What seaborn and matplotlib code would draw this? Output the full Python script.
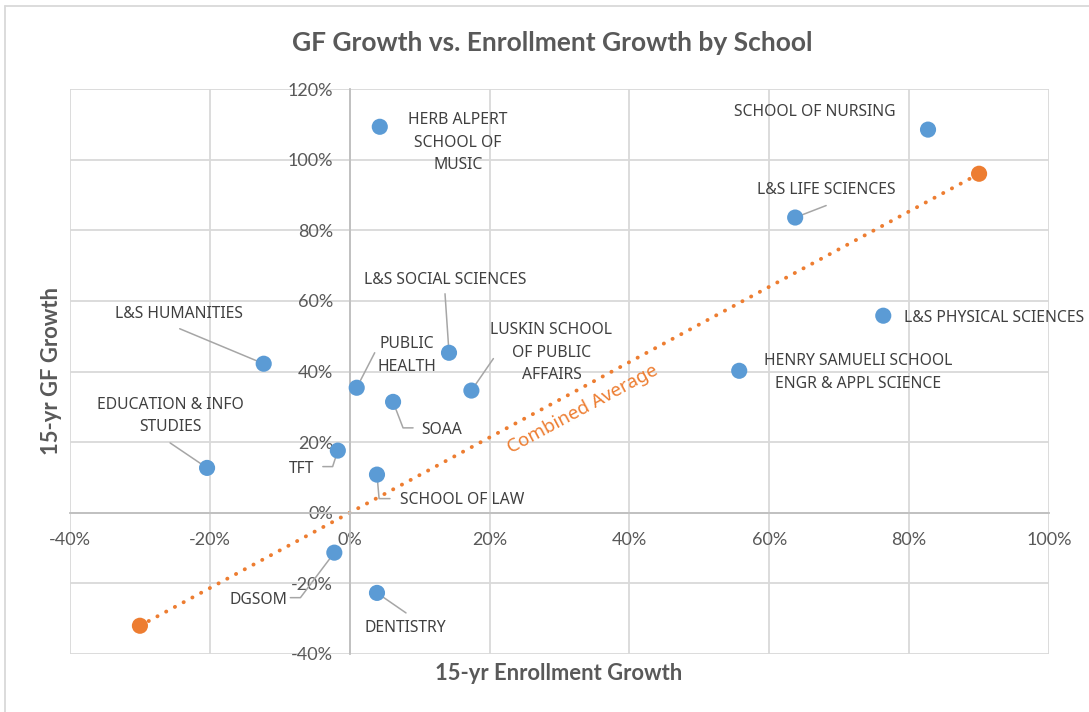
import numpy as np
import pandas as pd
import matplotlib.pyplot as plt
import matplotlib.ticker as mticker
from matplotlib.lines import Line2D
import seaborn as sns

# values in percent
schools = ["HERB ALPERT\nSCHOOL OF\nMUSIC", "SCHOOL OF NURSING", "L&S LIFE SCIENCES",
           "L&S SOCIAL SCIENCES", "L&S PHYSICAL SCIENCES", "L&S HUMANITIES",
           "PUBLIC\nHEALTH", "LUSKIN SCHOOL\nOF PUBLIC\nAFFAIRS",
           "HENRY SAMUELI SCHOOL\nENGR & APPL SCIENCE", "SOAA",
           "EDUCATION & INFO\nSTUDIES", "TFT", "SCHOOL OF LAW", "DGSOM", "DENTISTRY"]
enroll_growth = [4.3, 82.7, 63.7, 14.2, 76.3, -12.3, 1.0, 17.4, 55.7, 6.2, -20.4, -1.7, 3.9, -2.2, 3.9]
gf_growth = [109.3, 108.5, 83.6, 45.3, 55.8, 42.2, 35.4, 34.6, 40.2, 31.4, 12.7, 17.6, 10.8, -11.3, -22.7]

avg_enroll = [-30.0, 90.0]
avg_gf = [-32.0, 96.0]

# label placement: (label dx, dy), ha, leader start (dx, dy) or None, leader angle for elbows
label_pos = {
    "HERB ALPERT\nSCHOOL OF\nMUSIC": ((78, -16), "center", None, None),
    "SCHOOL OF NURSING": ((-113, 18), "center", None, None),
    "L&S LIFE SCIENCES": ((31, 28), "center", (31, 12), None),
    "L&S SOCIAL SCIENCES": ((-4, 73), "center", (-4, 59), None),
    "L&S PHYSICAL SCIENCES": ((21, -2), "left", None, None),
    "L&S HUMANITIES": ((-85, 50), "center", (-84, 35), None),
    "PUBLIC\nHEALTH": ((50, 32), "center", (18, 35), None),
    "LUSKIN SCHOOL\nOF PUBLIC\nAFFAIRS": ((80, 38), "center", (22, 32), None),
    "HENRY SAMUELI SCHOOL\nENGR & APPL SCIENCE": ((119, -2), "center", None, None),
    "SOAA": ((49, -28), "center", (20, -26), 111),
    "EDUCATION & INFO\nSTUDIES": ((-37, 52), "center", (-37, 25), None),
    "TFT": ((-36, -18), "center", (-15, -16), 72),
    "SCHOOL OF LAW": ((85, -25), "center", (13, -24), 95),
    "DGSOM": ((-76, -47), "center", (-44, -45), 53),
    "DENTISTRY": ((28, -35), "center", (29, -20), None),
}

df = pd.DataFrame({"school": schools, "enroll": enroll_growth, "gf": gf_growth})
avg_df = pd.DataFrame({"enroll": avg_enroll, "gf": avg_gf})

sns.set_style("white")
plt.rcParams["font.family"] = ["Lato", "DejaVu Sans"]

blue = "#5B9BD5"
orange = "#ED7D31"
grid_c = "#d9d9d9"
text_c = "#595959"
label_c = "#404040"

fig = plt.figure(figsize=(10.89, 7.12), dpi=100)
ax = fig.add_axes([70 / 1089, 1 - 654 / 712, 979 / 1089, 565 / 712])

ax.set_xlim(-40, 100)
ax.set_ylim(-40, 120)
ax.set_xticks(np.arange(-40, 101, 20))
ax.set_yticks(np.arange(-40, 121, 20))
ax.grid(True, color=grid_c, linewidth=1.3)
ax.set_axisbelow(True)
for s in ["top", "right"]:
    ax.spines[s].set_visible(False)
ax.spines["left"].set_position(("data", 0))
ax.spines["bottom"].set_position(("data", 0))
for s in ["left", "bottom"]:
    ax.spines[s].set_color("#bfbfbf")
    ax.spines[s].set_linewidth(1.3)
ax.xaxis.set_major_formatter(mticker.FuncFormatter(lambda v, p: f"{v:.0f}%"))
ax.yaxis.set_major_formatter(mticker.FuncFormatter(lambda v, p: f"{v:.0f}%"))
ax.tick_params(axis="both", length=0, labelsize=13, labelcolor=text_c)
ax.tick_params(axis="x", pad=14)
ax.tick_params(axis="y", pad=12)

# combined average line
ax.plot(avg_df["enroll"], avg_df["gf"], color=orange, linewidth=2.8,
        linestyle=(0, (0.05, 2.5)), dash_capstyle="round", zorder=2)
sns.scatterplot(data=avg_df, x="enroll", y="gf", color=orange, s=135,
                edgecolor="none", ax=ax, zorder=4)

sns.scatterplot(data=df, x="enroll", y="gf", color=blue, s=135,
                edgecolor="none", ax=ax, zorder=4)

for name, ex, gy in zip(schools, enroll_growth, gf_growth):
    (tdx, tdy), ha, lead, ang = label_pos[name]
    ax.annotate(name, xy=(ex, gy), xytext=(tdx, tdy), textcoords="offset pixels",
                ha=ha, va="center", fontsize=11.3, color=label_c,
                family=["Noto Sans", "DejaVu Sans"], linespacing=1.55, zorder=5)
    if lead is not None:
        if ang is None:
            cs = "arc3,rad=0"
        else:
            cs = f"angle,angleA=0,angleB={ang},rad=0"
        ax.annotate("", xy=(ex, gy), xytext=lead, textcoords="offset pixels",
                    arrowprops=dict(arrowstyle="-", color="#a6a6a6", lw=1.1,
                                    shrinkA=0, shrinkB=0, connectionstyle=cs),
                    zorder=3)

# label along combined average line
t = 0.52
lx = avg_enroll[0] + t * (avg_enroll[1] - avg_enroll[0])
ly = avg_gf[0] + t * (avg_gf[1] - avg_gf[0])
p0 = ax.transData.transform((avg_enroll[0], avg_gf[0]))
p1 = ax.transData.transform((avg_enroll[1], avg_gf[1]))
angle = np.degrees(np.arctan2(p1[1] - p0[1], p1[0] - p0[0]))
ax.annotate("Combined Average", xy=(lx, ly), xytext=(6, -19), textcoords="offset pixels",
            rotation=angle, rotation_mode="anchor", ha="center", va="center",
            fontsize=13.5, color=orange, family=["Noto Sans", "DejaVu Sans"], zorder=5)

ax.set_xlabel("")
ax.set_ylabel("")
fig.text(559 / 1089, 1 - 673 / 712, "15-yr Enrollment Growth", ha="center", va="center",
         fontsize=15.8, fontweight="bold", color=text_c)
fig.text(52 / 1089, 1 - 371 / 712, "15-yr GF Growth", ha="center", va="center",
         rotation=90, fontsize=15.8, fontweight="bold", color=text_c)
fig.text(552 / 1089, 1 - 43 / 712, "GF Growth vs. Enrollment Growth by School",
         ha="center", va="center", fontsize=19, fontweight="bold", color=text_c)

# chart border
fig.add_artist(Line2D([5 / 1089, 5 / 1089], [0, 1 - 6 / 712], transform=fig.transFigure,
                      color=grid_c, linewidth=1.3))
fig.add_artist(Line2D([5 / 1089, 1], [1 - 6 / 712, 1 - 6 / 712], transform=fig.transFigure,
                      color=grid_c, linewidth=1.3))

plt.savefig("out.png", dpi=100)
plt.close()
